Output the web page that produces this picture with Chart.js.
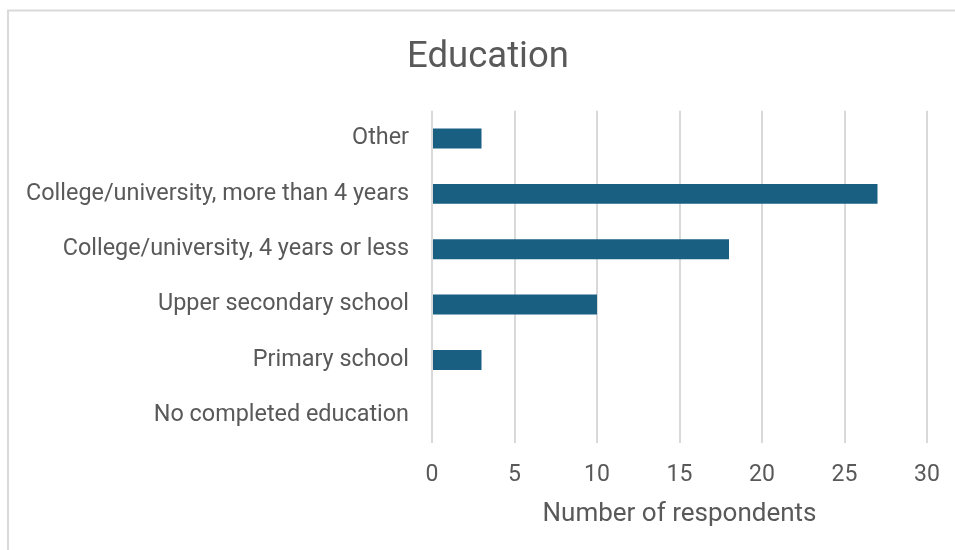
<!DOCTYPE html>
<html>
<head>
<meta charset="utf-8">
<script src="https://cdn.jsdelivr.net/npm/chart.js@4.4.1/dist/chart.umd.min.js"></script>
<style>
  body { margin: 0; background: #fff; }
  #wrap { width: 955px; height: 550px; }
</style>
</head>
<body>
<div id="wrap"><canvas id="myChart" width="955" height="550"></canvas></div>
<script>
var categories = [
  "Other",
  "College/university, more than 4 years",
  "College/university, 4 years or less",
  "Upper secondary school",
  "Primary school",
  "No completed education"
];
var respondents = [3, 27, 18, 10, 3, 0];
var xTicks = [0, 5, 10, 15, 20, 25, 30];

var textColor = "#595959";
var fontFamily = "Roboto, 'Open Sans', sans-serif";

// light frame on the left and top edges, like the original chart box
var framePlugin = {
  id: "frame",
  afterLayout: function(chart) {
    // let the long category labels use the space left of the layout padding
    chart.scales.y.left = 10;
  },
  beforeDraw: function(chart) {
    var c = chart.ctx;
    c.save();
    c.strokeStyle = "#d9d9d9";
    c.lineWidth = 2;
    c.beginPath();
    c.moveTo(8, 550);
    c.lineTo(8, 10.5);
    c.lineTo(955, 10.5);
    c.stroke();
    c.restore();
  }
};

var ctx = document.getElementById("myChart");

var barGraph = new Chart(ctx, {
  type: "bar",
  data: {
    labels: categories,
    datasets: [{
      label: "Number of respondents",
      data: respondents,
      backgroundColor: "#185f82",
      categoryPercentage: 1,
      barPercentage: 0.36
    }]
  },
  plugins: [framePlugin],
  options: {
    indexAxis: "y",
    responsive: false,
    animation: false,
    layout: { padding: { left: 49, right: 28, top: 10, bottom: 20 } },
    plugins: {
      legend: { display: false },
      tooltip: { enabled: false },
      title: {
        display: true,
        text: "Education",
        color: textColor,
        font: { family: fontFamily, size: 36.5, weight: "normal" },
        padding: { top: 26, bottom: 31 }
      }
    },
    scales: {
      x: {
        min: 0,
        max: 30,
        afterBuildTicks: function(scale) {
          scale.ticks = xTicks.map(function(v) { return { value: v }; });
        },
        afterFit: function(scale) {
          scale.height = 87;
          scale.paddingLeft = 0;
          scale.paddingRight = 0;
        },
        grid: { color: "#d9d9d9", lineWidth: 2, drawTicks: false },
        border: { display: false },
        ticks: {
          color: textColor,
          padding: 18,
          font: { family: fontFamily, size: 23 }
        },
        title: {
          display: true,
          text: "Number of respondents",
          color: textColor,
          font: { family: fontFamily, size: 26 },
          padding: { top: 11, bottom: 0 }
        }
      },
      y: {
        grid: { display: false, drawTicks: false },
        border: { display: false },
        afterFit: function(scale) { scale.width = 383; },
        ticks: {
          color: textColor,
          padding: 23,
          font: { family: fontFamily, size: 23.4 }
        }
      }
    }
  }
});
</script>
</body>
</html>
